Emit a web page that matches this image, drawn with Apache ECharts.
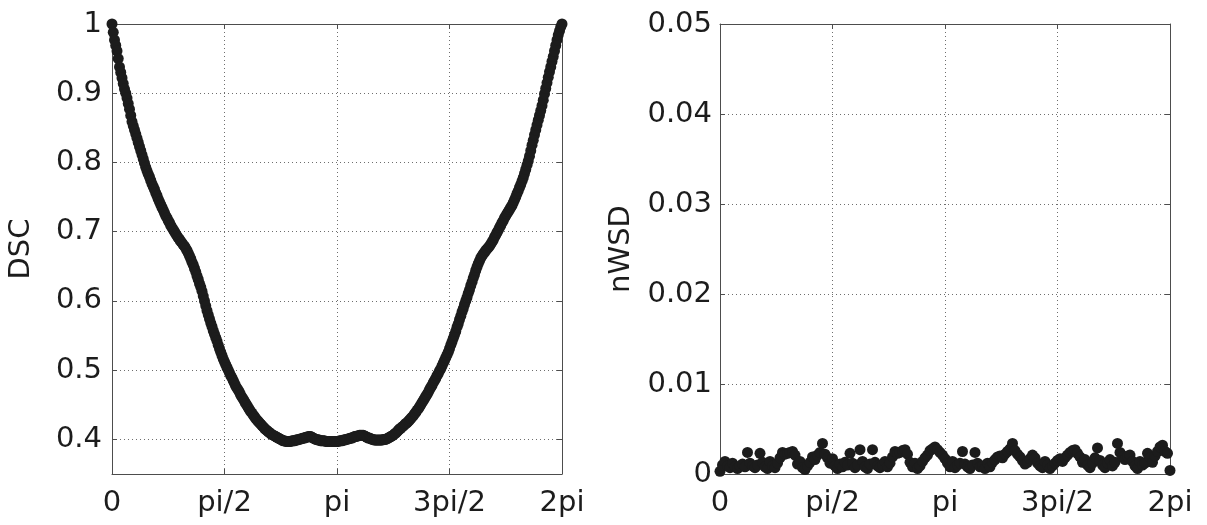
<!DOCTYPE html>
<html>
<head>
<meta charset="utf-8">
<script src="https://cdn.jsdelivr.net/npm/echarts@6/dist/echarts.min.js"></script>
<style>
  html, body { margin: 0; padding: 0; background: #ffffff; }
  #chart { width: 1207px; height: 525px; }
</style>
</head>
<body>
<div id="chart"></div>
<script>
// Angle tick positions (deg) and their labels.
const angleTicks = [0, 90, 180, 270, 360];
const angleTickLabels = ['0', 'pi/2', 'pi', '3pi/2', '2pi'];

// Left panel: DSC, sampled every 1 degree from 0 to 360.
const DSC_STEP_DEG = 1;
const dscTicks = [0.4, 0.5, 0.6, 0.7, 0.8, 0.9, 1];
const dscValues = [
  1.000, 0.988, 0.977, 0.969, 0.961, 0.950, 0.938, 0.930, 0.922, 0.914,
  0.906, 0.900, 0.893, 0.885, 0.877, 0.868, 0.859, 0.853, 0.847, 0.841,
  0.835, 0.829, 0.823, 0.817, 0.811, 0.805, 0.799, 0.793, 0.788, 0.783,
  0.779, 0.774, 0.769, 0.765, 0.761, 0.756, 0.752, 0.747, 0.743, 0.739,
  0.735, 0.731, 0.727, 0.723, 0.720, 0.716, 0.713, 0.709, 0.706, 0.703,
  0.700, 0.697, 0.694, 0.691, 0.689, 0.686, 0.684, 0.681, 0.679, 0.676,
  0.673, 0.669, 0.665, 0.661, 0.656, 0.652, 0.647, 0.642, 0.636, 0.631,
  0.625, 0.620, 0.614, 0.607, 0.600, 0.593, 0.586, 0.580, 0.574, 0.568,
  0.563, 0.557, 0.552, 0.547, 0.542, 0.536, 0.531, 0.526, 0.521, 0.516,
  0.512, 0.508, 0.504, 0.500, 0.496, 0.492, 0.489, 0.485, 0.481, 0.477,
  0.474, 0.471, 0.468, 0.464, 0.461, 0.458, 0.455, 0.452, 0.449, 0.446,
  0.443, 0.440, 0.438, 0.435, 0.433, 0.430, 0.428, 0.426, 0.424, 0.422,
  0.420, 0.418, 0.416, 0.414, 0.413, 0.411, 0.410, 0.408, 0.407, 0.406,
  0.405, 0.404, 0.403, 0.402, 0.401, 0.400, 0.399, 0.398, 0.398, 0.397,
  0.397, 0.397, 0.397, 0.397, 0.398, 0.398, 0.398, 0.399, 0.399, 0.400,
  0.400, 0.401, 0.401, 0.402, 0.402, 0.403, 0.403, 0.404, 0.404, 0.404,
  0.403, 0.402, 0.401, 0.400, 0.400, 0.399, 0.399, 0.398, 0.398, 0.398,
  0.398, 0.397, 0.397, 0.397, 0.397, 0.397, 0.397, 0.397, 0.397, 0.397,
  0.397, 0.397, 0.398, 0.398, 0.398, 0.399, 0.399, 0.400, 0.400, 0.401,
  0.401, 0.402, 0.402, 0.403, 0.404, 0.404, 0.405, 0.405, 0.406, 0.406,
  0.406, 0.406, 0.405, 0.404, 0.403, 0.402, 0.402, 0.401, 0.400, 0.400,
  0.399, 0.399, 0.399, 0.399, 0.399, 0.399, 0.399, 0.400, 0.400, 0.400,
  0.401, 0.402, 0.403, 0.404, 0.405, 0.406, 0.408, 0.409, 0.411, 0.413,
  0.415, 0.416, 0.418, 0.419, 0.421, 0.423, 0.424, 0.426, 0.428, 0.430,
  0.432, 0.434, 0.437, 0.439, 0.442, 0.444, 0.447, 0.450, 0.453, 0.456,
  0.459, 0.462, 0.465, 0.468, 0.472, 0.475, 0.478, 0.482, 0.485, 0.488,
  0.492, 0.495, 0.499, 0.502, 0.506, 0.510, 0.514, 0.518, 0.522, 0.526,
  0.531, 0.536, 0.541, 0.546, 0.551, 0.556, 0.562, 0.567, 0.573, 0.578,
  0.584, 0.589, 0.595, 0.600, 0.605, 0.611, 0.616, 0.622, 0.627, 0.633,
  0.638, 0.644, 0.649, 0.654, 0.658, 0.662, 0.665, 0.668, 0.670, 0.673,
  0.675, 0.677, 0.679, 0.682, 0.685, 0.688, 0.692, 0.695, 0.699, 0.702,
  0.706, 0.709, 0.713, 0.716, 0.720, 0.723, 0.726, 0.729, 0.732, 0.735,
  0.738, 0.742, 0.746, 0.750, 0.755, 0.759, 0.764, 0.768, 0.773, 0.778,
  0.784, 0.790, 0.796, 0.802, 0.809, 0.817, 0.825, 0.832, 0.840, 0.847,
  0.854, 0.861, 0.868, 0.875, 0.882, 0.890, 0.899, 0.907, 0.915, 0.923,
  0.931, 0.938, 0.946, 0.953, 0.961, 0.969, 0.977, 0.984, 0.990, 0.996,
  1.000
];

// Right panel: nWSD, sampled every 2 degrees from 0 to 360.
const NWSD_STEP_DEG = 2;
const nwsdTicks = [0, 0.01, 0.02, 0.03, 0.04, 0.05];
const nwsdValues = [
  0.0003, 0.0010, 0.0014, 0.0009, 0.0007, 0.0012, 0.0008, 0.0006, 0.0009, 0.0011,
  0.0008, 0.0024, 0.0012, 0.0009, 0.0007, 0.0010, 0.0023, 0.0013, 0.0008, 0.0006,
  0.0014, 0.0009, 0.0007, 0.0012, 0.0018, 0.0024, 0.0022, 0.0023, 0.0024, 0.0025,
  0.0021, 0.0011, 0.0014, 0.0007, 0.0005, 0.0009, 0.0013, 0.0019, 0.0016, 0.0021,
  0.0024, 0.0034, 0.0022, 0.0018, 0.0012, 0.0017, 0.0009, 0.0006, 0.0011, 0.0008,
  0.0013, 0.0010, 0.0023, 0.0012, 0.0007, 0.0010, 0.0027, 0.0014, 0.0008, 0.0006,
  0.0011, 0.0027, 0.0013, 0.0009, 0.0007, 0.0010, 0.0014, 0.0008, 0.0012, 0.0019,
  0.0025, 0.0023, 0.0024, 0.0026, 0.0027, 0.0022, 0.0013, 0.0008, 0.0012, 0.0006,
  0.0009, 0.0014, 0.0018, 0.0021, 0.0026, 0.0028, 0.0030, 0.0027, 0.0024, 0.0021,
  0.0017, 0.0012, 0.0008, 0.0014, 0.0007, 0.0010, 0.0012, 0.0025, 0.0011, 0.0008,
  0.0006, 0.0010, 0.0024, 0.0012, 0.0008, 0.0009, 0.0006, 0.0012, 0.0008, 0.0013,
  0.0016, 0.0019, 0.0020, 0.0018, 0.0022, 0.0025, 0.0028, 0.0034, 0.0026, 0.0022,
  0.0019, 0.0015, 0.0011, 0.0013, 0.0017, 0.0021, 0.0018, 0.0012, 0.0009, 0.0007,
  0.0014, 0.0010, 0.0006, 0.0009, 0.0012, 0.0015, 0.0017, 0.0014, 0.0018, 0.0021,
  0.0024, 0.0026, 0.0027, 0.0023, 0.0019, 0.0013, 0.0016, 0.0010, 0.0007, 0.0012,
  0.0018, 0.0029, 0.0015, 0.0010, 0.0007, 0.0012, 0.0016, 0.0009, 0.0013, 0.0034,
  0.0024, 0.0019, 0.0016, 0.0020, 0.0021, 0.0014, 0.0009, 0.0006, 0.0014, 0.0010,
  0.0012, 0.0023, 0.0018, 0.0013, 0.0020, 0.0025, 0.0030, 0.0032, 0.0025, 0.0023,
  0.0004
];

const FONT = "'DejaVu Sans', 'Liberation Sans', Arial, sans-serif";
const FONT_SIZE = 29;
const INK = '#1c1c1c';
const FRAME = '#4d4d4d';
const GRID_DOT = '#6e6e6e';

function toPoints(values, stepDeg) {
  return values.map((v, i) => [i * stepDeg, v]);
}

function angleLabel(v) {
  const k = angleTicks.indexOf(Math.round(v));
  return k >= 0 ? angleTickLabels[k] : '';
}

function angleAxis(gridIndex, position, showLabels) {
  return {
    type: 'value', gridIndex, position,
    min: 0, max: 360, interval: 90,
    axisLine: { show: true, onZero: false, lineStyle: { color: FRAME, width: 1 } },
    axisTick: { show: true, inside: true, length: 5, lineStyle: { color: FRAME } },
    axisLabel: {
      show: showLabels, margin: 15, fontSize: FONT_SIZE, fontFamily: FONT, color: INK,
      formatter: angleLabel, showMinLabel: true, showMaxLabel: true
    },
    splitLine: {
      show: showLabels,
      lineStyle: { color: GRID_DOT, type: [1, 3], width: 1 }
    }
  };
}

function valueAxis(gridIndex, position, min, max, ticks, showLabels, name, nameGap, labelMargin) {
  return {
    type: 'value', gridIndex, position, min, max,
    name: showLabels ? name : '',
    nameLocation: 'middle', nameGap,
    nameTextStyle: { fontSize: FONT_SIZE, fontFamily: FONT, color: INK },
    axisLine: { show: true, onZero: false, lineStyle: { color: FRAME, width: 1 } },
    axisTick: { show: true, inside: true, length: 5, customValues: ticks, lineStyle: { color: FRAME } },
    axisLabel: {
      show: showLabels, margin: labelMargin, fontSize: FONT_SIZE, fontFamily: FONT, color: INK,
      customValues: ticks,
      formatter: (v) => String(+v.toFixed(4))
    },
    splitLine: {
      show: showLabels,
      lineStyle: { color: GRID_DOT, type: [1, 3], width: 1 }
    }
  };
}

const chart = echarts.init(document.getElementById('chart'), null, { renderer: 'canvas' });

chart.setOption({
  animation: false,
  backgroundColor: '#ffffff',
  grid: [
    { left: 112, top: 24, width: 450, height: 450 },
    { left: 720, top: 24, width: 450, height: 450 }
  ],
  xAxis: [
    angleAxis(0, 'bottom', true),
    angleAxis(0, 'top', false),
    angleAxis(1, 'bottom', true),
    angleAxis(1, 'top', false)
  ],
  yAxis: [
    valueAxis(0, 'left', 0.35, 1, dscTicks, true, 'DSC', 76, 10),
    valueAxis(0, 'right', 0.35, 1, dscTicks, false, '', 0, 0),
    valueAxis(1, 'left', 0, 0.05, nwsdTicks, true, 'nWSD', 84, 8),
    valueAxis(1, 'right', 0, 0.05, nwsdTicks, false, '', 0, 0)
  ],
  series: [
    {
      name: 'DSC', type: 'scatter', xAxisIndex: 0, yAxisIndex: 0,
      data: toPoints(dscValues, DSC_STEP_DEG), symbol: 'circle', symbolSize: 11,
      itemStyle: { color: INK, opacity: 1 }, clip: false, silent: true
    },
    {
      name: 'nWSD', type: 'scatter', xAxisIndex: 2, yAxisIndex: 2,
      data: toPoints(nwsdValues, NWSD_STEP_DEG), symbol: 'circle', symbolSize: 11,
      itemStyle: { color: INK, opacity: 1 }, clip: false, silent: true
    }
  ]
});
</script>
</body>
</html>
